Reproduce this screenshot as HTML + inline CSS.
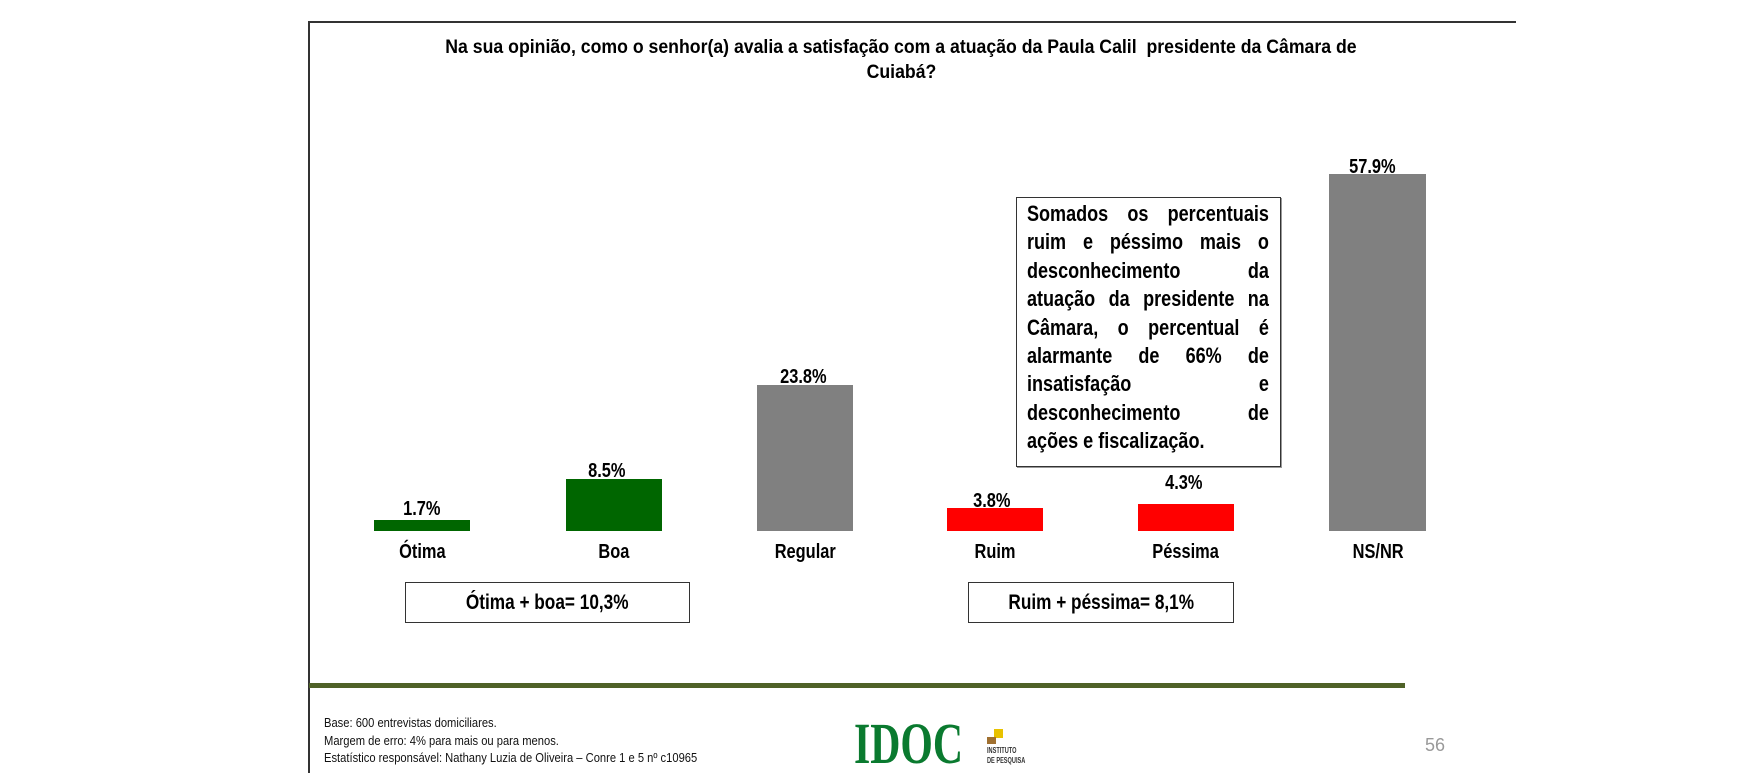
<!DOCTYPE html>
<html><head><meta charset="utf-8"><style>
body{margin:0;width:1744px;height:773px;background:#fff;position:relative;overflow:hidden;font-family:"Liberation Sans",sans-serif;}
.a{position:absolute;}
.n{display:inline-block;transform:scaleX(0.82);transform-origin:center;white-space:nowrap;}
.bar{position:absolute;}
.lab{position:absolute;width:200px;text-align:center;font-weight:bold;font-size:20px;color:#000;}
</style></head><body>
<div class="a" style="left:308px;top:21px;width:1208px;height:2px;background:#333"></div>
<div class="a" style="left:308px;top:21px;width:2px;height:752px;background:#333"></div>
<div class="a" style="left:300px;top:35px;width:1202px;text-align:center;font-weight:bold;font-size:19px;line-height:25px"><span class="n" style="transform:scaleX(0.93)">Na sua opinião, como o senhor(a) avalia a satisfação com a atuação da Paula Calil &nbsp;presidente da Câmara de</span><br><span class="n" style="transform:scaleX(0.93)">Cuiabá?</span></div>

<div class="bar" style="left:374px;top:520px;width:96px;height:11px;background:#006600"></div>
<div class="bar" style="left:566px;top:479px;width:96px;height:52px;background:#006600"></div>
<div class="bar" style="left:757px;top:385px;width:96px;height:146px;background:#808080"></div>
<div class="bar" style="left:947px;top:508px;width:96px;height:23px;background:#ff0000"></div>
<div class="bar" style="left:1138px;top:504px;width:96px;height:27px;background:#ff0000"></div>
<div class="bar" style="left:1329px;top:174px;width:97px;height:357px;background:#808080"></div>

<div class="lab" style="left:322px;top:498px"><span class="n">1.7%</span></div>
<div class="lab" style="left:507px;top:460px"><span class="n">8.5%</span></div>
<div class="lab" style="left:703px;top:366px"><span class="n">23.8%</span></div>
<div class="lab" style="left:892px;top:490px"><span class="n">3.8%</span></div>
<div class="lab" style="left:1084px;top:472px"><span class="n">4.3%</span></div>
<div class="lab" style="left:1272px;top:156px"><span class="n">57.9%</span></div>

<div class="lab" style="left:322px;top:541px"><span class="n">Ótima</span></div>
<div class="lab" style="left:514px;top:541px"><span class="n">Boa</span></div>
<div class="lab" style="left:705px;top:541px"><span class="n">Regular</span></div>
<div class="lab" style="left:895px;top:541px"><span class="n">Ruim</span></div>
<div class="lab" style="left:1086px;top:541px"><span class="n">Péssima</span></div>
<div class="lab" style="left:1278px;top:541px"><span class="n">NS/NR</span></div>

<div class="a" style="left:1016px;top:197px;width:263px;height:268px;border:1.5px solid #333;box-shadow:1px 1px 0 #999"></div>
<div class="a" style="left:1027px;top:200px;width:295px;font-weight:bold;font-size:22px;line-height:28.4px;transform:scaleX(0.82);transform-origin:left top">
<div style="display:flex;justify-content:space-between"><span>Somados</span><span>os</span><span>percentuais</span></div>
<div style="display:flex;justify-content:space-between"><span>ruim</span><span>e</span><span>péssimo</span><span>mais</span><span>o</span></div>
<div style="display:flex;justify-content:space-between"><span>desconhecimento</span><span>da</span></div>
<div style="display:flex;justify-content:space-between"><span>atuação</span><span>da</span><span>presidente</span><span>na</span></div>
<div style="display:flex;justify-content:space-between"><span>Câmara,</span><span>o</span><span>percentual</span><span>é</span></div>
<div style="display:flex;justify-content:space-between"><span>alarmante</span><span>de</span><span>66%</span><span>de</span></div>
<div style="display:flex;justify-content:space-between"><span>insatisfação</span><span>e</span></div>
<div style="display:flex;justify-content:space-between"><span>desconhecimento</span><span>de</span></div>
<div>ações e fiscalização.</div>
</div>

<div class="a" style="left:405px;top:582px;width:283px;height:39px;border:1.5px solid #333;text-align:center;font-weight:bold;font-size:21px;line-height:39px"><span class="n">Ótima + boa= 10,3%</span></div>
<div class="a" style="left:968px;top:582px;width:264px;height:39px;border:1.5px solid #333;text-align:center;font-weight:bold;font-size:21px;line-height:39px"><span class="n">Ruim + péssima= 8,1%</span></div>

<div class="a" style="left:309px;top:683px;width:1096px;height:5px;background:#4f6228"></div>

<div class="a" style="left:324px;top:714px;font-size:13px;line-height:17.5px;color:#111"><span class="n" style="transform-origin:left;transform:scaleX(0.86)">Base: 600 entrevistas domiciliares.</span><br><span class="n" style="transform-origin:left;transform:scaleX(0.86)">Margem de erro: 4% para mais ou para menos.</span><br><span class="n" style="transform-origin:left;transform:scaleX(0.86)">Estatístico responsável: Nathany Luzia de Oliveira – Conre 1 e 5 nº c10965</span></div>

<div class="a" style="left:854px;top:715px;font-family:'Liberation Serif',serif;font-weight:bold;font-size:58px;color:#0a7a2f;line-height:58px"><span class="n" style="transform-origin:left;transform:scaleX(0.72)">IDOC</span></div>
<div class="a" style="left:994px;top:729px;width:9px;height:9px;background:#e8c200"></div>
<div class="a" style="left:987px;top:737px;width:9px;height:7px;background:#a07030"></div>
<div class="a" style="left:987px;top:746px;font-size:8px;font-weight:bold;line-height:10px;color:#333"><span class="n" style="transform-origin:left;transform:scaleX(0.7)">INSTITUTO</span><br><span class="n" style="transform-origin:left;transform:scaleX(0.7)">DE PESQUISA</span></div>
<div class="a" style="left:1425px;top:735px;font-size:18px;color:#999">56</div>
</body></html>
